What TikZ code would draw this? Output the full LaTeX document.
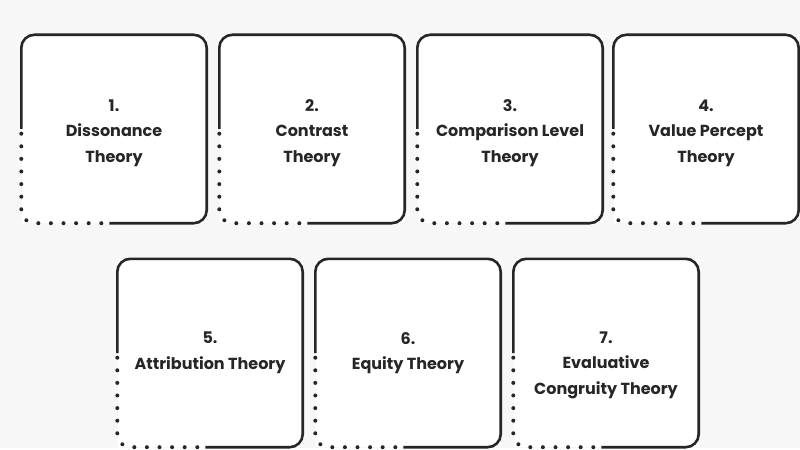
\documentclass[tikz,border=0pt]{standalone}
\usepackage{fontspec}
\setmainfont{Poppins}

\begin{document}
\begin{tikzpicture}[x=1pt,y=-1pt,
    theory/.style={minimum width=185pt, minimum height=188pt, inner sep=0pt,
      fill=white, align=center, text=black!85,
      font=\bfseries\fontsize{16}{25.5}\selectfont},
    solidedge/.style={line width=2.6pt, draw=black!85, rounded corners=13pt},
    dotedge/.style={line width=4pt, draw=black!85, line cap=round,
      dash pattern=on 0pt off 12.6pt, rounded corners=13pt}]
   \fill[black!3] (0,0) rectangle (800,448);
   % first row
   \node[theory, text height=71pt] (T1) at (114,129) {1.\\Dissonance\\Theory};
   \node[theory, text height=71pt] (T2) at (312,129) {2.\\Contrast\\Theory};
   \node[theory, text height=71pt] (T3) at (510,129) {3.\\Comparison Level\\Theory};
   \node[theory, text height=71pt] (T4) at (706,129) {4.\\Value Percept\\Theory};
   % second row
   \node[theory] (T5) at (210,353) {5.\\Attribution Theory};
   \node[theory] (T6) at (408,353) {6.\\Equity Theory};
   \node[theory, text height=87pt] (T7) at (606,353) {7.\\Evaluative\\Congruity Theory};
   \foreach \t in {T1,T2,T3,T4,T5,T6,T7} {
     \draw[solidedge] (\t.west) -- (\t.north west) -- (\t.north east)
       -- (\t.south east) -- ([xshift=88pt]\t.south west);
     \draw[dotedge] ([xshift=80pt]\t.south west) -- (\t.south west)
       -- ([yshift=-3pt]\t.west);
   }
 \end{tikzpicture}
\end{document}
